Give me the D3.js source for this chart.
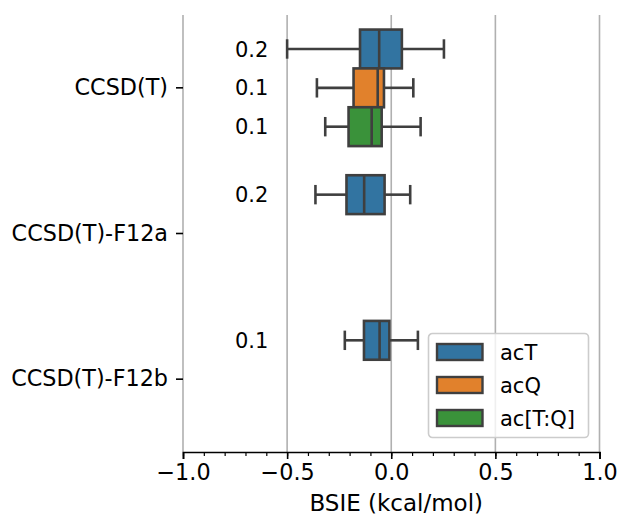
<!DOCTYPE html>
<html><head><meta charset="utf-8">
<script src="https://cdn.jsdelivr.net/npm/d3@7"></script>
<style>body{margin:0;background:#fff}svg{display:block}text{font-family:"DejaVu Sans",sans-serif;fill:#000}</style>
</head><body><svg id="c" width="619" height="516"></svg>
<script>
const categories = ["CCSD(T)", "CCSD(T)-F12a", "CCSD(T)-F12b"];
const series = ["acT", "acQ", "ac[T:Q]"];
const colors = ["#3274a1", "#e1812c", "#3a923a"];
// [category, series, whiskerLow, q1, median, q3, whiskerHigh, label]
const boxes = [
  ["CCSD(T)", "acT", -0.500, -0.150, -0.058, 0.051, 0.253, "0.2"],
  ["CCSD(T)", "acQ", -0.357, -0.181, -0.065, -0.035, 0.106, "0.1"],
  ["CCSD(T)", "ac[T:Q]", -0.317, -0.205, -0.094, -0.046, 0.141, "0.1"],
  ["CCSD(T)-F12a", "acT", -0.364, -0.215, -0.130, -0.032, 0.091, "0.2"],
  ["CCSD(T)-F12b", "acT", -0.223, -0.131, -0.056, -0.009, 0.128, "0.1"]
];
const xTicks = [-1.0, -0.5, 0.0, 0.5, 1.0];
const xMinor = d3.range(-10, 11).map(d => d / 10);
const xLabel = "BSIE (kcal/mol)";
const labelX = -0.59;

const svg = d3.select("#c");
const L = 183, R = 599.5, T = 15, B = 452;
const x = d3.scaleLinear().domain([-1, 1]).range([L, R]);
const y = d3.scaleBand().domain(categories).range([T, B]);
const bh = 0.8 * y.bandwidth() / 3;
const off = s => (series.indexOf(s) - 1) * bh;
const yc = d => y(d[0]) + y.bandwidth() / 2 + off(d[1]);
const fs = 21, fsTick = 22.3, fsLab = 23;
const edge = "#3f3f3f";

// grid
svg.append("g").selectAll("line").data(xTicks).join("line")
  .attr("x1", d => x(d)).attr("x2", d => x(d)).attr("y1", T).attr("y2", B)
  .attr("stroke", "#b0b0b0").attr("stroke-width", 1.6);

// x axis
const gx = svg.append("g").attr("transform", `translate(0,${B})`);
gx.call(d3.axisBottom(x).tickValues(xMinor).tickSize(4).tickFormat(""))
  .call(g => g.select(".domain").remove())
  .call(g => g.selectAll("line").attr("stroke", "#000").attr("stroke-width", 1.2));
gx.append("g").call(d3.axisBottom(x).tickValues(xTicks).tickSize(7).tickPadding(5)
    .tickFormat(d => d3.format(".1f")(d).replace("-", "\u2212")))
  .call(g => g.select(".domain").attr("stroke", "#000").attr("stroke-width", 1.6))
  .call(g => g.selectAll("line").attr("stroke", "#000").attr("stroke-width", 1.6))
  .call(g => g.selectAll("text").attr("font-size", fsTick).attr("font-family", "DejaVu Sans").attr("fill", "#000"));
svg.append("text").attr("x", x(0) + 5).attr("y", 511).attr("text-anchor", "middle")
  .attr("font-size", fsLab).text(xLabel);

// y axis
const gy = svg.append("g").attr("transform", `translate(${L},0)`);
gy.call(d3.axisLeft(y).tickSize(7).tickPadding(8))
  .call(g => g.select(".domain").remove())
  .call(g => g.selectAll("line").attr("stroke", "#000").attr("stroke-width", 1.6))
  .call(g => g.selectAll("text").attr("font-size", fsTick).attr("font-family", "DejaVu Sans").attr("fill", "#000"));

// boxes
const gb = svg.append("g").selectAll("g").data(boxes).join("g");
const col = d => colors[series.indexOf(d[1])];
gb.append("line").attr("x1", d => x(d[2])).attr("x2", d => x(d[3]))
  .attr("y1", yc).attr("y2", yc).attr("stroke", edge).attr("stroke-width", 2.6);
gb.append("line").attr("x1", d => x(d[5])).attr("x2", d => x(d[6]))
  .attr("y1", yc).attr("y2", yc).attr("stroke", edge).attr("stroke-width", 2.6);
gb.selectAll(".cap").data(d => [[d[2], yc(d)], [d[6], yc(d)]]).join("line")
  .attr("x1", c => x(c[0])).attr("x2", c => x(c[0]))
  .attr("y1", c => c[1] - bh / 4).attr("y2", c => c[1] + bh / 4)
  .attr("stroke", edge).attr("stroke-width", 2.6);
gb.append("rect").attr("x", d => x(d[3])).attr("width", d => x(d[5]) - x(d[3]))
  .attr("y", d => yc(d) - bh / 2).attr("height", bh)
  .attr("fill", col).attr("stroke", edge).attr("stroke-width", 2.6);
gb.append("line").attr("x1", d => x(d[4])).attr("x2", d => x(d[4]))
  .attr("y1", d => yc(d) - bh / 2).attr("y2", d => yc(d) + bh / 2)
  .attr("stroke", edge).attr("stroke-width", 2.6);
gb.append("text").attr("x", x(labelX)).attr("y", yc).attr("dy", "0.36em")
  .attr("text-anchor", "end").attr("font-size", fs).text(d => d[7]);

// legend
const lg = svg.append("g").attr("transform", "translate(428.5,333.5)");
lg.append("rect").attr("width", 160).attr("height", 104).attr("rx", 4)
  .attr("fill", "#fff").attr("fill-opacity", 0.8).attr("stroke", "#cccccc").attr("stroke-width", 1.6);
const li = lg.selectAll(".it").data(series).join("g")
  .attr("transform", (d, i) => `translate(0,${18.5 + i * 33})`);
li.append("rect").attr("x", 8.5).attr("y", -8).attr("width", 45.5).attr("height", 16)
  .attr("fill", (d, i) => colors[i]).attr("stroke", edge).attr("stroke-width", 2.4);
li.append("text").attr("x", 71.5).attr("y", 0).attr("dy", "0.36em").attr("font-size", fs).text(d => d);
</script></body></html>
